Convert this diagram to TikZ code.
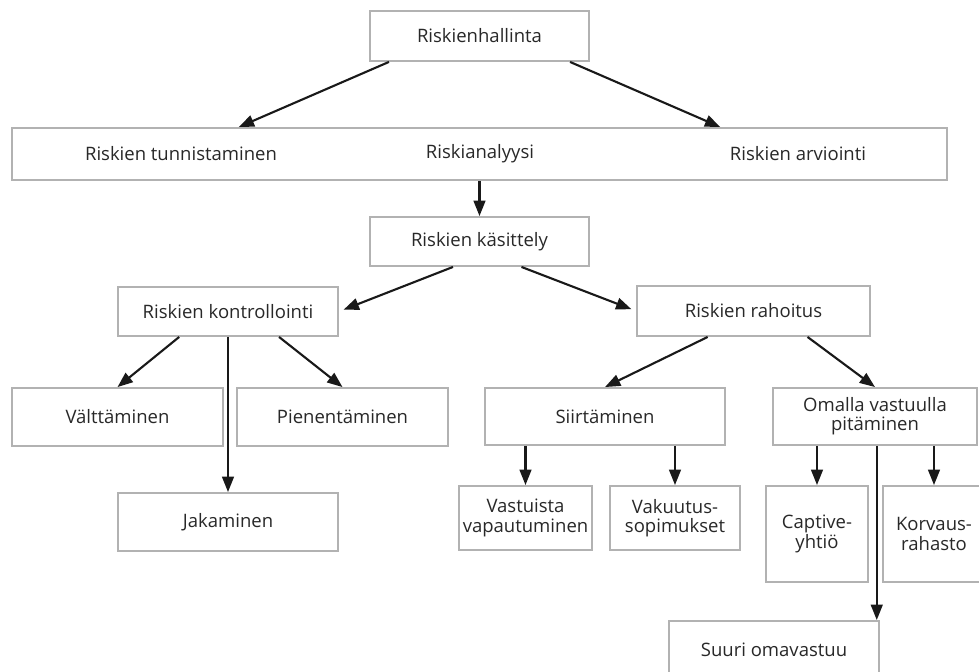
\documentclass[tikz,border=0pt]{standalone}
\usepackage{fontspec}
\setmainfont{Open Sans}
\usetikzlibrary{arrows.meta,calc}
\definecolor{boxG}{RGB}{178,178,178}
\definecolor{txtG}{RGB}{40,40,40}
\definecolor{arrK}{RGB}{25,25,25}

\begin{document}
\begin{tikzpicture}[x=0.03cm,y=-0.03cm,
  box/.style 2 args={draw=boxG,line width=1.6pt,fill=white,text=txtG,align=center,
    inner sep=0pt,minimum width=#1*0.03cm,minimum height=#2*0.03cm,
    font=\fontsize{15.8}{16.4}\selectfont},
  lbl/.style={text=txtG,inner sep=0pt,font=\fontsize{15.8}{16.4}\selectfont},
  arr/.style={-{Triangle[length=4.6mm,width=3.5mm]},arrK,line width=1.8pt}]
\useasboundingbox (0,0) rectangle (979,671);
% boxes
\node[box={219}{50}] (hall) at (479.5,36) {Riskienhallinta};
\node[box={935}{52}] (big) at (479.5,154) {};
\node[lbl] (tun) at (181,154) {Riskien tunnistaminen};
\node[lbl] (ana) at (480,154) {Riskianalyysi};
\node[lbl] (arv) at (798,154) {Riskien arviointi};
\node[box={219}{49}] (kas) at (479.5,241.5) {Riskien käsittely};
\node[box={220}{49}] (kon) at (228,311.5) {Riskien kontrollointi};
\node[box={233}{50}] (rah) at (753.5,311) {Riskien rahoitus};
\node[box={211}{58}] (val) at (117.5,417) {Välttäminen};
\node[box={211}{58}] (pie) at (342.5,417) {Pienentäminen};
\node[box={220}{58}] (jak) at (228,522) {Jakaminen};
\node[box={240}{57}] (sii) at (605,416.5) {Siirtäminen};
\node[box={204}{57}] (oma) at (875,416.5) {Omalla vastuulla\\pitäminen};
\node[box={133}{64}] (vas) at (525.5,518) {Vastuista\\vapautuminen};
\node[box={130}{64}] (vak) at (675,518) {Vakuutus-\\sopimukset};
\node[box={102}{96}] (cap) at (817,534) {Captive-\\yhtiö};
\node[box={102}{96}] (kor) at (934,534) {Korvaus-\\rahasto};
\node[box={210}{58}] (suu) at (774,650) {Suuri omavastuu};
% connectors
\draw[arr] ($(hall.south west)!0.09!(hall.south east)$) -- ($(big.north west)!0.243!(big.north east)$);
\draw[arr] ($(hall.south west)!0.91!(hall.south east)$) -- ($(big.north west)!0.757!(big.north east)$);
\draw[arr] (big.south) -- (kas.north);
\draw[arr,shorten >=1.5mm] ($(kas.south west)!0.38!(kas.south east)$) -- (kon.east);
\draw[arr,shorten >=1.5mm] ($(kas.south west)!0.69!(kas.south east)$) -- (rah.west);
\draw[arr] ($(kon.south west)!0.28!(kon.south east)$) -- (val.north);
\draw[arr] ($(kon.south west)!0.73!(kon.south east)$) -- (pie.north);
\draw[arr] (kon.south) -- (jak.north);
\draw[arr] ($(rah.south west)!0.305!(rah.south east)$) -- (sii.north);
\draw[arr] ($(rah.south west)!0.73!(rah.south east)$) -- (oma.north);
\draw[arr] (sii.south -| vas.north) -- (vas.north);
\draw[arr] (sii.south -| vak.north) -- (vak.north);
\draw[arr] (oma.south -| cap.north) -- (cap.north);
\draw[arr] (oma.south -| kor.north) -- (kor.north);
\coordinate (suuin) at ($(suu.north west)!0.985!(suu.north east)$);
\draw[arr] (oma.south -| suuin) -- (suuin);
\end{tikzpicture}
\end{document}
